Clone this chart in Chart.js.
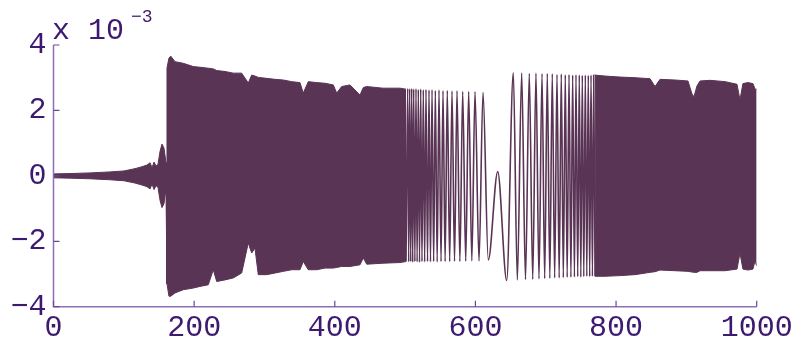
<!DOCTYPE html>
<html>
<head>
<meta charset="utf-8">
<script src="https://cdn.jsdelivr.net/npm/chart.js@4.4.0/dist/chart.umd.min.js"></script>
<style>
  body { margin: 0; background: #fff; }
</style>
</head>
<body>
<canvas id="signalChart" width="794" height="342"></canvas>
<script>
// values are in units of 1e-3 (see the "x 10^-3" label)
const xTicks = [0, 200, 400, 600, 800, 1000];
const yTicks = [-4, -2, 0, 2, 4];

// envelope of the dense part before the gap
const leftX = [0, 23.5, 51.9, 80.3, 100.3, 115.9, 125.9, 133, 137.3, 140.1, 143, 145.8, 148.6, 151.5, 154.3,
  157.1, 160, 161.4, 164.2, 166.7, 172.8, 184.6, 198.8, 208.3, 220.1, 227.2, 232.1, 243.9, 255.7, 267.6,
  277, 281.8, 286.5, 291.2, 303.2, 315, 326.8, 338.7, 350.5, 355.2, 362.3, 374.3, 386.1, 397.9, 402.7,
  409.8, 421.6, 435.8, 440.6, 445.4, 468.6, 492.7, 501.3];
const leftUpper = [0.06, 0.07, 0.09, 0.12, 0.15, 0.22, 0.28, 0.33, 0.4, 0.25, 0.42, 0.3, 0.35, 0.75, 0.97,
  0.85, 0.4, 3.3, 3.6, 3.66, 3.49, 3.44, 3.34, 3.32, 3.29, 3.27, 3.22, 3.19, 3.14, 3.14,
  2.84, 3.08, 3.05, 3.01, 2.98, 2.95, 2.93, 2.88, 2.85, 2.53, 2.88, 2.85, 2.83, 2.78, 2.53,
  2.73, 2.78, 2.47, 2.7, 2.73, 2.68, 2.68, 2.65];
const leftLower = [-0.06, -0.07, -0.09, -0.12, -0.15, -0.22, -0.28, -0.33, -0.4, -0.25, -0.42, -0.3, -0.35, -0.75, -0.97,
  -0.85, -0.4, -3.3, -3.68, -3.68, -3.58, -3.48, -3.43, -3.38, -3.33, -2.87, -3.23, -3.18, -3.12, -2.97,
  -2.05, -2.36, -2.21, -3.02, -3.02, -2.97, -2.92, -2.87, -2.87, -2.62, -2.87, -2.87, -2.82, -2.82, -2.8,
  -2.77, -2.77, -2.72, -2.51, -2.7, -2.67, -2.65, -2.62];

// peaks and troughs around the slow part (600-770)
const chirpX = [501.3, 503.7, 505.1, 506.5, 508.0, 509.4, 510.8, 512.2, 513.9, 515.5, 517.1, 518.8, 520.5, 522.2,
  524.0, 525.9, 527.8, 529.7, 531.9, 534.0, 536.1, 538.3, 540.6, 543.0, 545.6, 548.2, 551.1, 553.9, 556.9,
  560.0, 563.4, 566.7, 570.3, 573.8, 577.9, 581.9, 586.2, 590.4, 594.9, 599.4, 605.1, 610.8, 618.3, 631.7,
  644.5, 653.9, 659.6, 665.8, 671.2, 676.6, 681.5, 686.1, 690.4, 694.7, 698.5, 702.2, 705.8, 709.3, 712.7,
  716.0, 719.1, 722.1, 725.0, 727.8, 730.5, 733.1, 735.8, 738.3, 740.8, 743.0, 745.5, 747.7, 749.9, 752.0,
  754.1, 756.3, 758.4, 760.5, 762.5, 764.4, 766.4, 768.2, 770.1];
const chirpY = [-2.62, 2.67, -2.63, 2.66, -2.62, 2.67, -2.64, 2.65, -2.62, 2.66, -2.63, 2.64, -2.64, 2.65,
  -2.62, 2.63, -2.63, 2.64, -2.62, 2.62, -2.63, 2.63, -2.62, 2.61, -2.63, 2.62, -2.62, 2.6, -2.62,
  2.61, -2.62, 2.59, -2.61, 2.6, -2.62, 2.58, -2.61, 2.58, -2.6, 2.57, -2.6, 2.55, -2.57, 0.13,
  -3.2, 3.15, -3.18, 3.14, -3.17, 3.13, -3.16, 3.14, -3.15, 3.12, -3.14, 3.13, -3.13, 3.12, -3.12,
  3.1, -3.12, 3.11, -3.11, 3.09, -3.1, 3.1, -3.1, 3.08, -3.09, 3.09, -3.08, 3.08, -3.09, 3.07,
  -3.08, 3.08, -3.07, 3.07, -3.08, 3.08, -3.07, 3.08, -3.07];

// envelope of the dense part after the gap
const rightX = [770.1, 784.3, 805.6, 826.9, 848.3, 855.4, 862.5, 883.8, 902.3, 908, 910.8, 915.1, 919.4,
  933.6, 955, 972, 976.2, 980.4, 987.5, 994.7, 997.6, 1000];
const rightUpper = [3.08, 3.05, 3.02, 3.0, 2.97, 2.73, 2.95, 2.93, 2.9, 2.5, 2.42, 2.75, 2.9,
  2.92, 2.88, 2.8, 2.32, 2.82, 2.85, 2.82, 2.65, 2.65];
const rightLower = [-3.07, -3.07, -3.05, -3.02, -2.95, -2.93, -2.88, -2.9, -2.92, -2.94, -2.95, -2.95, -2.9,
  -2.9, -2.9, -2.85, -2.36, -2.85, -2.88, -2.85, -2.6, -2.75];

const signalColor = '#5a3455';
const axisColor = '#8e70b6';
const tickColor = '#6b469c';
const textColor = '#3d1a70';

function pts(xs, ys) {
  return xs.map((x, i) => ({ x: x, y: ys[i] }));
}

function minus(v) {
  return String(v).replace('-', '\u2212');
}

// axis lines, inward ticks and the exponent label
const frame = {
  id: 'frame',
  afterDraw(chart) {
    const ctx = chart.ctx;
    const a = chart.chartArea;
    const x = chart.scales.x;
    const y = chart.scales.y;
    ctx.save();
    ctx.strokeStyle = axisColor;
    ctx.lineWidth = 1.5;
    ctx.beginPath();
    ctx.moveTo(a.left, a.top);
    ctx.lineTo(a.left, a.bottom);
    ctx.lineTo(a.right, a.bottom);
    ctx.stroke();

    ctx.strokeStyle = tickColor;
    ctx.lineWidth = 1.2;
    ctx.beginPath();
    yTicks.forEach(v => {
      const py = y.getPixelForValue(v);
      ctx.moveTo(a.left, py);
      ctx.lineTo(a.left + 6, py);
    });
    xTicks.forEach(v => {
      const px = x.getPixelForValue(v);
      ctx.moveTo(px, a.bottom);
      ctx.lineTo(px, a.bottom - 6);
    });
    ctx.stroke();

    ctx.fillStyle = textColor;
    ctx.textBaseline = 'alphabetic';
    ctx.font = '30px "Liberation Mono"';
    ctx.fillText('x 10', 52, 39);
    ctx.font = '18px "Liberation Mono"';
    ctx.fillText('\u22123', 131, 22);
    ctx.restore();
  }
};

const ctx = document.getElementById('signalChart').getContext('2d');

const signalChart = new Chart(ctx, {
  type: 'line',
  data: {
    datasets: [
      { data: pts(leftX, leftUpper), fill: '+1', backgroundColor: signalColor, borderColor: signalColor, borderWidth: 1, pointRadius: 0 },
      { data: pts(leftX, leftLower), fill: false, borderColor: signalColor, borderWidth: 1, pointRadius: 0 },
      { data: pts(rightX, rightUpper), fill: '+1', backgroundColor: signalColor, borderColor: signalColor, borderWidth: 1, pointRadius: 0 },
      { data: pts(rightX, rightLower), fill: false, borderColor: signalColor, borderWidth: 1, pointRadius: 0 },
      { data: pts(chirpX, chirpY), fill: false, borderColor: signalColor, borderWidth: 1.6, pointRadius: 0, cubicInterpolationMode: 'monotone' }
    ]
  },
  options: {
    responsive: false,
    animation: false,
    events: [],
    layout: { padding: { left: 0, right: 37.3, top: 45, bottom: 0 } },
    plugins: { legend: { display: false }, tooltip: { enabled: false } },
    scales: {
      x: {
        type: 'linear',
        min: 0,
        max: 1000,
        grid: { display: false, drawTicks: false },
        border: { display: false },
        afterFit: s => { s.height = 35.3; s.paddingRight = 0; s.paddingLeft = 0; },
        afterBuildTicks: s => { s.ticks = xTicks.map(v => ({ value: v })); },
        ticks: {
          color: textColor,
          font: { family: 'Liberation Mono', size: 30 },
          padding: 3,
          maxRotation: 0,
          autoSkip: false,
          callback: v => String(v)
        }
      },
      y: {
        min: -4,
        max: 4,
        grid: { display: false, drawTicks: false },
        border: { display: false },
        afterFit: s => { s.width = 53.5; s.paddingTop = 0; s.paddingBottom = 0; },
        afterBuildTicks: s => { s.ticks = yTicks.map(v => ({ value: v })); },
        ticks: {
          color: textColor,
          font: { family: 'Liberation Mono', size: 30 },
          padding: 7,
          callback: v => minus(v)
        }
      }
    }
  },
  plugins: [frame]
});
</script>
</body>
</html>
